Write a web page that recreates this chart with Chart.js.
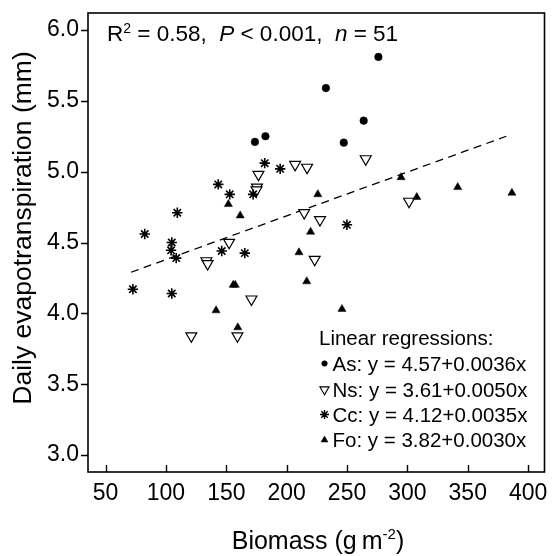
<!DOCTYPE html>
<html><head><meta charset="utf-8">
<script src="https://cdn.jsdelivr.net/npm/chart.js@4.4.1/dist/chart.umd.min.js"></script>
<style>html,body{margin:0;padding:0;background:#fff}#wrap{width:552px;height:556px}</style>
</head><body><div id="wrap"><canvas id="c" width="552" height="556"></canvas></div>
<script>
const FONT = "'Liberation Sans', Arial, Helvetica, sans-serif";

// tick values and labels
const xTickValues = [50, 100, 150, 200, 250, 300, 350, 400];
const xTickLabels = ['50', '100', '150', '200', '250', '300', '350', '400'];
const yTickValues = [3.0, 3.5, 4.0, 4.5, 5.0, 5.5, 6.0];
const yTickLabels = ['3.0', '3.5', '4.0', '4.5', '5.0', '5.5', '6.0'];

// As (filled circles)
const asX = [276, 232.5, 263.8, 247.3, 182.4, 173.7];
const asY = [5.81, 5.59, 5.36, 5.205, 5.25, 5.21];

// Ns (open down triangles)
const nsX = [265.5, 207, 216.9, 176.6, 175.4, 175.0, 301.4, 214.5, 227.6, 152.3, 223.2, 133.5, 134.5, 170.8, 121, 159.2];
const nsY = [5.09, 5.05, 5.03, 4.98, 4.89, 4.87, 4.79, 4.71, 4.66, 4.50, 4.38, 4.37, 4.35, 4.10, 3.84, 3.84];

// Cc (asterisks)
const ccX = [181.8, 194.6, 143.3, 152.8, 172.2, 109.4, 82.4, 104.8, 104.2, 108.5, 146.2, 165.3, 249.9, 72.6, 104.8];
const ccY = [5.06, 5.02, 4.91, 4.84, 4.84, 4.71, 4.56, 4.50, 4.445, 4.39, 4.44, 4.425, 4.625, 4.17, 4.14];

// Fo (filled up triangles)
const foX = [294.8, 307.8, 341.7, 386.6, 225.8, 151.7, 161.5, 219.8, 210.2, 216.6, 155.7, 157.4, 141.5, 245.8, 159.5];
const foY = [4.96, 4.82, 4.89, 4.85, 4.84, 4.77, 4.69, 4.575, 4.43, 4.225, 4.2, 4.2, 4.02, 4.03, 3.90];

// overall regression line endpoints
const regX = [71, 382];
const regY = [4.29, 5.25];

// legend text
const legendTitle = 'Linear regressions:';
const legendNames = ['As', 'Ns', 'Cc', 'Fo'];
const legendEqs = ['y = 4.57+0.0036x', 'y = 3.61+0.0050x', 'y = 4.12+0.0035x', 'y = 3.82+0.0030x'];

const pts = (xs, ys) => xs.map((x, i) => ({x: x, y: ys[i]}));

function drawRuns(ctx, runs, x, y, align) {
  let total = 0;
  runs.forEach(r => { ctx.font = r.font; r.w = ctx.measureText(r.t).width; total += r.w; });
  let cx = align === 'center' ? x - total / 2 : x;
  runs.forEach(r => {
    ctx.font = r.font;
    ctx.fillText(r.t, cx, y + (r.dy || 0));
    cx += r.w;
  });
}

function drawMarker(ctx, style, x, y, r) {
  Chart.helpers.drawPoint(ctx, {pointStyle: style.ps, rotation: style.rot || 0, radius: r, borderWidth: style.bw}, x, y);
}

function zeroPad(s) { s.paddingLeft = 0; s.paddingRight = 0; s.paddingTop = 0; s.paddingBottom = 0; }

const decor = {
  id: 'decor',
  afterDatasetsDraw(chart) {
    const ctx = chart.ctx;
    const a = chart.chartArea;
    const xs = chart.scales.x, ys = chart.scales.y;
    ctx.save();
    ctx.strokeStyle = '#000';
    ctx.lineWidth = 1.6;
    ctx.strokeRect(a.left, a.top, a.right - a.left, a.bottom - a.top);
    ctx.lineWidth = 1.4;
    ctx.beginPath();
    xTickValues.forEach(v => {
      const px = Math.round(xs.getPixelForValue(v)) + 0.5;
      ctx.moveTo(px, a.bottom);
      ctx.lineTo(px, a.bottom - 7);
    });
    yTickValues.forEach(v => {
      const py = Math.round(ys.getPixelForValue(v)) + 0.5;
      ctx.moveTo(a.left, py);
      ctx.lineTo(a.left - 7, py);
    });
    ctx.stroke();

    ctx.fillStyle = '#000';
    ctx.textBaseline = 'alphabetic';
    ctx.textAlign = 'left';
    // stats text
    const f22 = '22.5px ' + FONT, f22i = 'italic 22.5px ' + FONT, fsup = '14px ' + FONT;
    drawRuns(ctx, [
      {t: 'R', font: f22}, {t: '2', font: fsup, dy: -8}, {t: ' = 0.58,  ', font: f22},
      {t: 'P', font: f22i}, {t: ' < 0.001,  ', font: f22},
      {t: 'n', font: f22i}, {t: ' = 51', font: f22}
    ], a.left + 19, 41, 'left');

    // legend
    const f20 = '20.5px ' + FONT;
    ctx.font = f20;
    ctx.fillText(legendTitle, 319, 345);
    const rows = [363.5, 389.5, 414.5, 440];
    const styles = [
      {ps: 'circle', r: 2.8, fill: '#000', stroke: '#000', bw: 0.5},
      {ps: 'triangle', rot: 180, r: 5.3, fill: '#fff', stroke: '#000', bw: 1.1},
      {ps: 'star', r: 4.5, fill: '#000', stroke: '#000', bw: 1.4},
      {ps: 'triangle', r: 4.0, fill: '#000', stroke: '#000', bw: 0.5}
    ];
    legendNames.forEach((n, i) => {
      const s = styles[i];
      ctx.save();
      ctx.fillStyle = s.fill; ctx.strokeStyle = s.stroke; ctx.lineWidth = s.bw;
      drawMarker(ctx, s, 324.5, rows[i], s.r);
      ctx.restore();
      ctx.font = f20;
      ctx.fillStyle = '#000';
      ctx.fillText(n + ': ' + legendEqs[i], 332.5, rows[i] + 7);
    });

    // y title
    ctx.save();
    ctx.translate(31, 228);
    ctx.rotate(-Math.PI / 2);
    ctx.font = '26.5px ' + FONT;
    ctx.textAlign = 'center';
    ctx.fillText('Daily evapotranspiration (mm)', 0, 0);
    ctx.restore();
    // x title
    const f25 = '25px ' + FONT, fs = '15px ' + FONT;
    drawRuns(ctx, [
      {t: 'Biomass (g\u2009m', font: f25}, {t: '-2', font: fs, dy: -10}, {t: ')', font: f25}
    ], 318, 549, 'center');
    ctx.restore();
  }
};

new Chart(document.getElementById('c'), {
  type: 'scatter',
  data: {
    datasets: [
      {label: 'Regression', type: 'line', data: pts(regX, regY), borderColor: '#000', borderWidth: 1.3,
       borderDash: [8, 5.5], pointRadius: 0, fill: false, showLine: true, order: 5},
      {label: 'Fo', data: pts(foX, foY), pointStyle: 'triangle', pointRadius: 4.7, backgroundColor: '#000',
       borderColor: '#000', borderWidth: 0.5},
      {label: 'Cc', data: pts(ccX, ccY), pointStyle: 'star', pointRadius: 5.2, backgroundColor: '#000',
       borderColor: '#000', borderWidth: 1.6},
      {label: 'Ns', data: pts(nsX, nsY), pointStyle: 'triangle', pointRotation: 180, pointRadius: 6.3,
       backgroundColor: '#fff', borderColor: '#000', borderWidth: 1.2},
      {label: 'As', data: pts(asX, asY), pointStyle: 'circle', pointRadius: 3.8, backgroundColor: '#000',
       borderColor: '#000', borderWidth: 0.5}
    ]
  },
  options: {
    responsive: false,
    animation: false,
    devicePixelRatio: 1,
    layout: {padding: {top: 13, right: 4, left: 0, bottom: 0}},
    plugins: {legend: {display: false}, tooltip: {enabled: false}},
    scales: {
      x: {
        type: 'linear', min: 35.4, max: 413.6,
        afterBuildTicks: s => { s.ticks = xTickValues.map(v => ({value: v})); },
        afterFit: s => { s.height = 84; zeroPad(s); },
        grid: {display: false, drawTicks: false}, border: {display: false},
        ticks: {
          autoSkip: false, maxRotation: 0, padding: 8, color: '#000',
          font: {family: FONT, size: 23},
          callback: (v, i) => xTickLabels[i]
        }
      },
      y: {
        type: 'linear', min: 2.88, max: 6.12,
        afterBuildTicks: s => { s.ticks = yTickValues.map(v => ({value: v})); },
        afterFit: s => { s.width = 88; zeroPad(s); },
        grid: {display: false, drawTicks: false}, border: {display: false},
        ticks: {
          autoSkip: false, padding: 9, color: '#000',
          font: {family: FONT, size: 23},
          callback: (v, i) => yTickLabels[i]
        }
      }
    }
  },
  plugins: [decor]
});
</script>
</body></html>
